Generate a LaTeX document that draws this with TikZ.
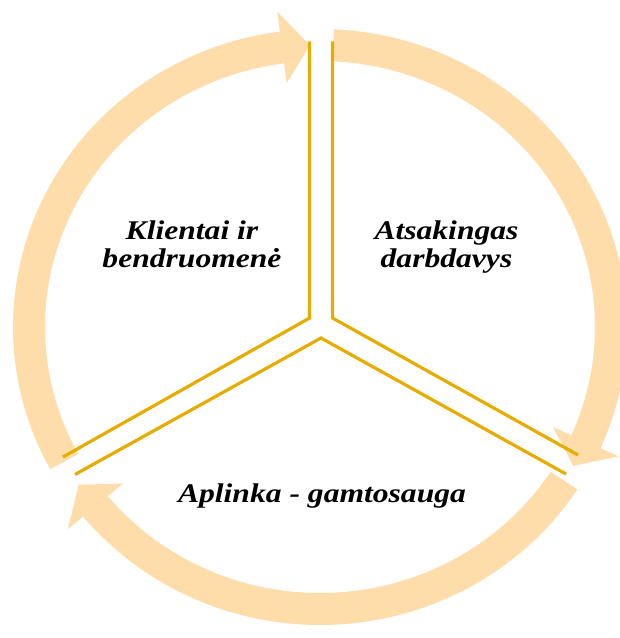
\documentclass[tikz,border=0pt]{standalone}
\usepackage{fontspec}
\setmainfont{Liberation Serif}[FakeStretch=1.17]
\usetikzlibrary{positioning,calc}
\definecolor{ring}{HTML}{FFDDAB}
\definecolor{gold}{HTML}{E6AC00}
% one band of the cycle: start angle, end of body, tip angle
\newcommand{\cyclearrow}[3]{%
  \fill[ring] (#1:307 and 298) arc[start angle=#1,end angle=#2,x radius=307,y radius=298]
    -- (#2:327 and 318) -- (#3:291 and 282) -- (#2:255 and 246) -- (#2:275 and 266)
    arc[start angle=#2,end angle=#1,x radius=275,y radius=266] -- cycle;}

\begin{document}
\begin{tikzpicture}[x=1pt,y=1pt,
      sep/.style={draw=gold,line width=3.2pt,miter limit=10},
      lab/.style={font=\fontsize{27}{28.5}\selectfont\bfseries\itshape,align=center,inner sep=0pt,anchor=base}]
    \useasboundingbox (-320,-311) rectangle (300,327);
    \cyclearrow{87.4}{-24}{-29.5}
    \cyclearrow{-33}{-140.5}{-146}
    \cyclearrow{208.5}{97.5}{92}
    \draw[sep] (-10.4,285.5) -- (-10.4,9) -- (-257,-130);
    \draw[sep] (12.5,285.5) -- (12.5,9) -- (258,-128);
    \draw[sep] (-245,-147.5) -- (1,-11) -- (246,-147);
    \node[lab](kl) at (-128,59.3){Klientai ir\\bendruomenė};
    \node[lab](ad) at (126.5,59.3){Atsakingas\\darbdavys};
    \node[lab](ap) at (2,-175){Aplinka - gamtosauga};
\end{tikzpicture}
\end{document}
